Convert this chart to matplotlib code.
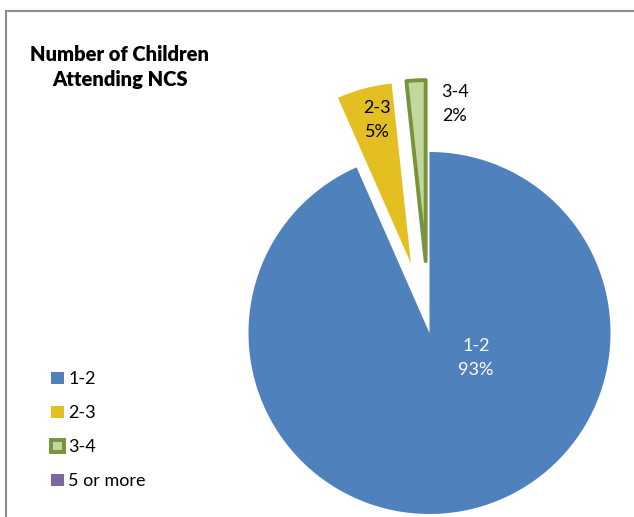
import matplotlib.pyplot as plt

categories = ["1-2", "2-3", "3-4", "5 or more"]
shares = [93.4, 4.9, 1.7, 0]
pct_labels = ["93%", "5%", "2%", "0%"]

colors = ["#4F81BD", "#E3BF22", "#C3D69B", "#8064A2"]
edges = ["#4F81BD", "#E3BF22", "#77933C", "#8064A2"]

W, H = 634, 517
plt.rcParams["font.family"] = ["Lato", "DejaVu Sans"]

fig = plt.figure(figsize=(W / 100, H / 100), dpi=100)
ax = fig.add_axes([0, 0, 1, 1])

cx, cy, r = 429.5, H - 333, 181
pull = 72  # explode offset in px (pie uses data units)
wedges, _ = ax.pie(shares, colors=colors, explode=[0, pull, pull, 0],
                   startangle=90, counterclock=False, center=(cx, cy),
                   radius=r, wedgeprops=dict(linewidth=0))
for w, ec in zip(wedges, edges):
    w.set_edgecolor(ec)
wedges[2].set_linewidth(2.8)
wedges[2].set_joinstyle("round")

ax.set_xlim(0, W)
ax.set_ylim(0, H)
ax.set_aspect("equal")
ax.axis("off")

# data labels
ax.text(476, H - 358, f"{categories[0]}\n{pct_labels[0]}", color="white",
        fontsize=13, ha="center", va="center", linespacing=1.6)
ax.text(377, H - 120, f"{categories[1]}\n{pct_labels[1]}", color="black",
        fontsize=13, ha="center", va="center", linespacing=1.6)
ax.text(455, H - 104, f"{categories[2]}\n{pct_labels[2]}", color="black",
        fontsize=13, ha="center", va="center", linespacing=1.6)

ax.text(120, H - 67, "Number of Children\nAttending NCS", fontsize=14.5,
        fontweight="heavy", ha="center", va="center", linespacing=1.4)

leg = ax.legend(wedges, categories, loc="upper left",
                bbox_to_anchor=(35 / W, 1 - 355 / H), frameon=False,
                fontsize=13, handlelength=0.7, handleheight=0.7,
                handletextpad=0.25, labelspacing=1.0)

# chart area border (partially visible)
ax.plot([5.5, 5.5, W], [0, H - 10.5, H - 10.5], color="#8C8C8C", lw=1.5,
        solid_joinstyle="miter")

fig.savefig("out.png", dpi=100)
